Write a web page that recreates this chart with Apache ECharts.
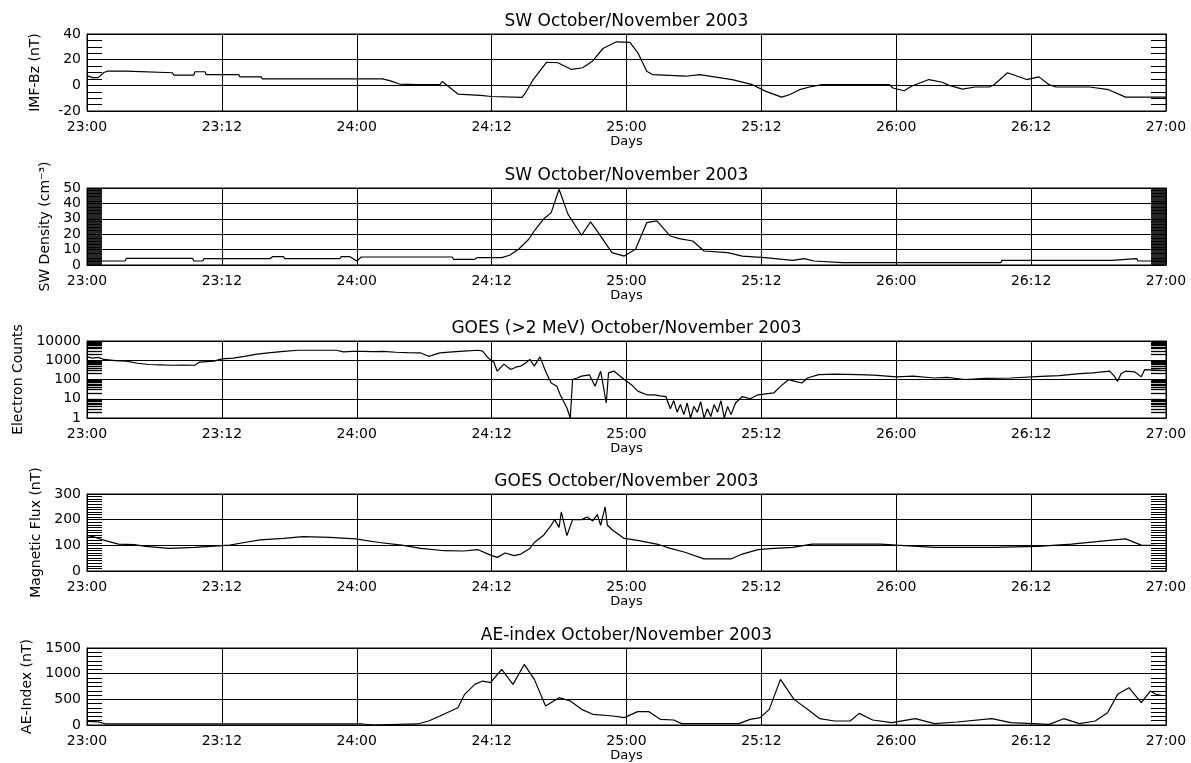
<!DOCTYPE html>
<html><head><meta charset="utf-8">
<script src="https://cdn.jsdelivr.net/npm/echarts@6/dist/echarts.min.js"></script>
<style>html,body{margin:0;padding:0;background:#fff}#c{width:1191px;height:763px}</style>
</head><body><div id="c"></div>
<script>
// ---------- data ----------
const tickLabels = ['23:00','23:12','24:00','24:12','25:00','25:12','26:00','26:12','27:00'];
const panelTitles = ['SW October/November 2003','SW October/November 2003','GOES (>2 MeV) October/November 2003','GOES October/November 2003','AE-index October/November 2003'];
const yAxisNames = ['IMF-Bz (nT)','SW Density (cm\u207B\u00B3)','Electron Counts','Magnetic Flux (nT)','AE-Index (nT)'];
const xAxisName = 'Days';

// hours since 23 Oct 00:00
const bzHours  = [0,0.5,1.0,1.5,1.8,3.5,3.6,7.6,7.7,9.5,9.6,10.5,10.6,13.5,13.6,15.5,15.6,26.3,27.0,27.8,29.3,31.4,31.6,33.0,35.0,36.0,38.7,39.0,39.7,40.9,41.9,43.1,44.1,45.0,45.9,47.1,48.3,49.0,49.8,50.3,53.3,54.5,57.4,59.2,60.4,61.8,62.5,63.4,64.3,65.4,71.4,71.7,72.7,73.4,74.9,76.1,76.7,77.9,79.0,80.3,80.7,81.9,83.6,84.7,85.6,86.2,89.2,90.9,92.4,96];
const bzValues = [7.6,6,6,10,11,11,9.8,9.8,8,8,10.6,10.6,8.4,8.4,6.6,6.6,5,5,3.5,1,0.5,0.5,3,-6.8,-7.9,-8.7,-9.4,-6,4.5,18,17.6,12.4,13.7,19,28.7,33.9,33.4,25.5,11,8.4,7.1,8.4,4.5,0.5,-4.7,-9.2,-7.3,-3.4,-1.3,0.5,0.5,-2.1,-4.2,-0.5,4.5,2.4,0,-2.9,-1.3,-1.3,0.5,9.8,4.5,6.6,0.5,-1.3,-1.3,-3.4,-9.2,-9.2];

const densityHours  = [0,3.4,3.5,9.4,9.5,10.3,10.4,16.3,16.5,17.5,17.6,22.5,22.6,23.4,24.0,24.4,32.5,32.6,34.5,34.7,36.9,37.6,38.4,39.3,39.9,40.6,41.3,42.0,42.8,44.0,44.8,45.4,46.7,47.8,48.8,49.8,50.7,51.9,52.7,53.9,54.9,57.0,58.3,60.3,62.8,63.8,64.7,67.2,81.3,81.4,91.2,91.3,93.4,93.5,96];
const densityValues = [2.6,2.6,4.3,4.3,2.6,2.6,4.1,4.1,5.4,5.4,4.1,4.1,5.4,5.4,2.6,5.2,5.2,3.7,3.7,4.8,4.8,6.3,10.2,16.7,23.2,29.7,34,49.2,32.9,19.3,28,22,8,5.8,10.2,27.5,28.6,18.8,17.1,15.6,9.1,8,5.8,4.8,3,4.1,2.6,1.5,1.5,3,3,4.1,4.1,2.6,2.6];

const electronHours  = [0,0.5,1.0,1.5,2.5,3.5,4.5,5.5,6.5,7.6,8.5,9.6,10,11.3,12,13,14,15,16.1,17.5,18.8,20,21.5,22.2,22.8,23.6,24.5,25.5,26.3,27.5,28.5,29.7,30.4,31.4,32.5,33.5,34.8,35.2,35.7,36.2,36.5,37.1,37.7,38.2,38.6,39.0,39.4,39.8,40.3,40.8,41.3,41.8,42.1,42.7,43.0,43.2,43.6,44.0,44.7,45.2,45.7,46.2,46.4,46.9,47.8,48.5,49.0,49.8,50.5,51.0,51.5,51.9,52.2,52.5,52.8,53.1,53.4,53.7,54.0,54.3,54.6,54.9,55.2,55.5,55.8,56.1,56.4,56.7,57.0,57.3,57.7,58.3,59.0,59.7,60.4,61.1,61.7,62.4,63.0,63.6,64.1,65.1,66.5,68.6,70.0,72.0,73.5,75.4,76.5,78.1,80.0,82.2,84.9,86.5,88.3,89.5,91.0,91.4,91.7,92.0,92.4,93.2,93.8,94.1,95.5];
const electronValues = [1500,1300,1400,1100,960,900,700,600,580,550,560,550,800,900,1180,1300,1600,2000,2400,2900,3300,3300,3300,3300,2700,2900,2900,2800,2900,2600,2500,2400,1600,2400,2700,3000,3300,3000,1300,790,270,630,330,450,500,700,1100,500,1500,270,66,45,16,3.3,1,100,120,150,175,45,270,6,220,270,100,50,25,16,16,14,13,3,8,2,5,1.5,6,1,4,2,7,1,3,1.2,5,2,8,1,4,1.5,6,13,10,16,18,20,44,98,80,66,120,180,190,180,170,137,150,120,130,100,115,120,147,160,200,220,270,150,80,200,270,250,137,325,300];

const fluxHours  = [0,0.5,1.4,2.8,4.2,5.2,7.3,9.6,11.0,12.7,14.0,15.4,17.5,19.2,21.6,23.9,26.0,28.0,29.7,31.8,33.5,34.8,35.9,36.5,37.2,38.0,38.6,39.4,39.8,40.6,41.3,41.6,42.0,42.2,42.7,43.2,44.0,44.5,45.0,45.4,45.7,46.1,46.3,46.8,47.8,49.1,50.7,51.9,53.2,54.9,57.3,58.3,59.7,61.1,62.8,64.5,70.6,72.0,75.4,80.5,84.6,87.6,90.7,92.4,93.8,95];
const fluxValues = [130,135,121,105,103,96,88,92,96,101,111,121,127,134,131,125,111,101,88,79,78,83,62,53,70,60,66,88,111,138,178,200,170,230,138,200,200,210,195,220,178,250,178,158,127,118,105,88,73,47,47,66,83,88,92,105,105,101,92,92,96,105,118,125,101,100];

const aeHours  = [0,1.0,1.7,24.5,24.6,25.5,25.6,29.4,30.4,31.4,33.0,33.6,34.5,35.2,35.9,36.9,37.9,38.9,39.8,40.8,42.0,43.0,44.0,45.0,46.8,47.8,49.0,50.0,51.0,52.2,52.9,58.0,59.0,59.9,60.7,61.7,62.9,64.1,65.2,66.5,67.9,68.7,69.9,71.6,73.7,75.4,77.4,80.5,82.2,85.6,86.9,88.3,89.7,90.8,91.7,92.7,93.8,94.6,95.1,95.6];
const aeValues = [70,60,20,20,0,0,20,20,78,175,337,597,791,856,824,1083,791,1180,889,370,532,467,305,208,175,143,260,260,110,97,26,26,110,143,305,889,499,305,123,78,78,227,97,45,123,26,58,123,45,12,123,26,78,240,597,726,434,661,597,578];

// ---------- axis settings ----------
const yType     = ['value','value','log','value','value'];
const yMin      = [-20, 0, 1, 0, 0];
const yMax      = [40, 50, 10000, 300, 1500];
const yInterval = [20, 10, null, 100, 500];
const yMinorSplit = [4, 10, 9, 10, 6];

const seriesHours  = [bzHours, densityHours, electronHours, fluxHours, aeHours];
const seriesValues = [bzValues, densityValues, electronValues, fluxValues, aeValues];

// ---------- layout / style ----------
const FONT = 'DejaVu Sans';
const plotTops = [34, 188, 341, 494, 648];
const plotH = 77;
const gridLeft = 87, gridRight = 25;
const plotCenterX = gridLeft + (1191 - gridLeft - gridRight) / 2;
const yNameGap  = [45, 34, 54, 44, 51];
const minorWidth = [1, 1.7, 1.3, 1, 1];

const grids = [], xAxes = [], yAxes = [], series = [], titles = [];
for (let i = 0; i < 5; i++) {
  grids.push({left: gridLeft, right: gridRight, top: plotTops[i], height: plotH,
    show: true, borderColor: '#000', borderWidth: 1, backgroundColor: 'transparent',
    containLabel: false, outerBoundsMode: 'none'});
  titles.push({text: panelTitles[i], left: plotCenterX, top: plotTops[i] - 21,
    textAlign: 'center', textVerticalAlign: 'top', padding: 0,
    textStyle: {fontFamily: FONT, fontSize: 17, fontWeight: 'normal', color: '#000'}});
  xAxes.push({type: 'value', gridIndex: i, min: 0, max: 96, interval: 12,
    name: xAxisName, nameLocation: 'middle', nameGap: 23,
    nameTextStyle: {fontFamily: FONT, fontSize: 13, color: '#000'},
    axisLine: {show: true, lineStyle: {color: '#000', width: 1}},
    axisTick: {show: false},
    splitLine: {show: true, lineStyle: {color: '#000', width: 1}},
    axisLabel: {fontFamily: FONT, fontSize: 14, color: '#000', margin: 9,
      formatter: v => tickLabels[Math.round(v / 12)] || ''}});
  const common = {gridIndex: i, type: yType[i], min: yMin[i], max: yMax[i],
    axisLine: {show: true, lineStyle: {color: '#000', width: 1}},
    axisTick: {show: true, inside: true, length: 15, lineStyle: {color: '#000', width: 1}},
    minorTick: {show: true, splitNumber: yMinorSplit[i], length: 15, lineStyle: {color: '#000', width: minorWidth[i]}}};
  if (yInterval[i] != null) common.interval = yInterval[i];
  if (yType[i] === 'log') common.logBase = 10;
  yAxes.push(Object.assign({}, common, {position: 'left',
    name: yAxisNames[i], nameLocation: 'middle', nameRotate: 90, nameGap: yNameGap[i],
    nameTextStyle: {fontFamily: FONT, fontSize: 14, color: '#000'},
    splitLine: {show: true, lineStyle: {color: '#000', width: 1}},
    axisLabel: {fontFamily: FONT, fontSize: 14, color: '#000', margin: 6,
      formatter: v => String(Math.round(v))}}));
  yAxes.push(Object.assign({}, common, {position: 'right',
    splitLine: {show: false}, axisLabel: {show: false}}));
  const data = seriesHours[i].map((h, k) => [h, seriesValues[i][k]]);
  series.push({type: 'line', xAxisIndex: i, yAxisIndex: 2 * i, data: data,
    showSymbol: false, symbol: 'none', silent: true, clip: true,
    lineStyle: {color: '#000', width: 1.2}});
}

const chart = echarts.init(document.getElementById('c'), null, {renderer: 'canvas'});
chart.setOption({
  animation: false,
  backgroundColor: '#fff',
  title: titles, grid: grids, xAxis: xAxes, yAxis: yAxes, series: series
});
</script></body></html>
